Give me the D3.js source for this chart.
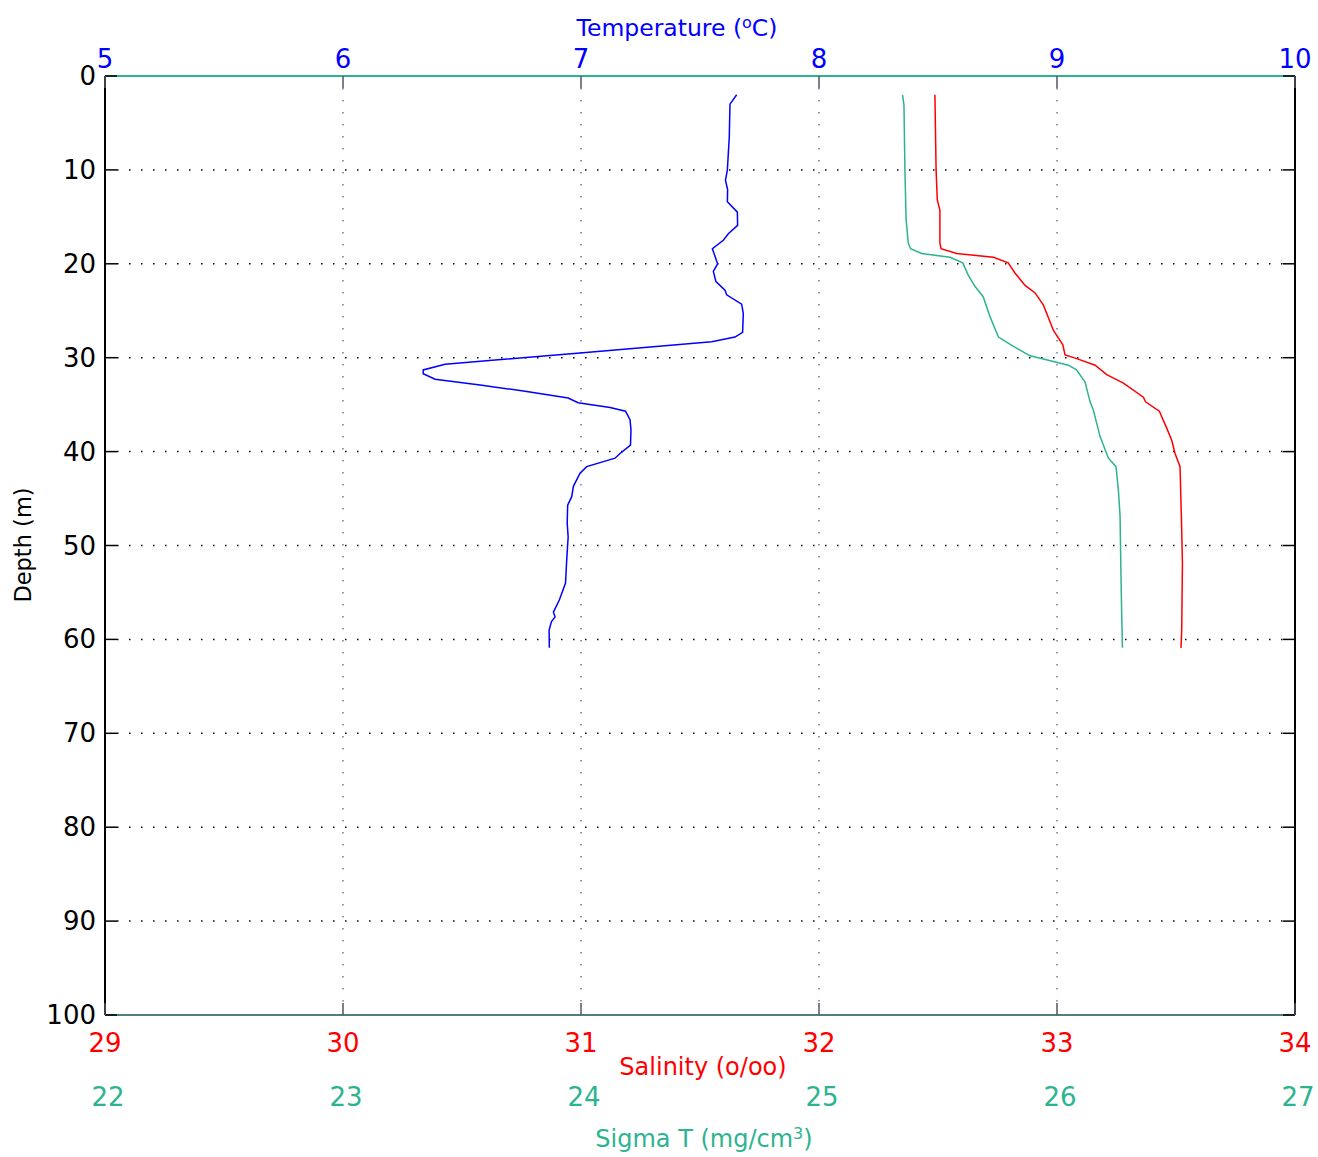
<!DOCTYPE html>
<html><head><meta charset="utf-8">
<script src="https://cdn.jsdelivr.net/npm/d3@7"></script>
<style>body{margin:0;background:#fff}svg{display:block}text{font-family:"DejaVu Sans",sans-serif}</style>
</head><body>
<svg id="c" width="1318" height="1157"></svg>
<script>
const depthTicks = [0,10,20,30,40,50,60,70,80,90,100];
const tempTicks = [5,6,7,8,9,10];
const salTicks = [29,30,31,32,33,34];
const sigTicks = [22,23,24,25,26,27];

const tempDepth = [2.0,3.0,6.5,10,11.1,12.1,13.4,14.5,15.9,16.8,17.5,18.4,20.0,20.8,21.9,22.8,23.3,24.3,25.3,27.3,27.8,28.3,29.5,30.7,31.3,31.7,32.3,32.9,33.6,34.3,34.8,35.3,35.7,36.6,37.7,39.3,40.2,40.7,41.6,42.3,43.7,44.8,45.7,47.6,49.1,51.5,54.0,55.8,57.1,57.6,58.1,59.0,60.9];
const tempValues = [7.654,7.626,7.623,7.615,7.607,7.616,7.615,7.657,7.658,7.619,7.598,7.552,7.574,7.556,7.567,7.605,7.612,7.675,7.682,7.679,7.647,7.549,6.996,6.429,6.337,6.337,6.387,6.576,6.772,6.946,6.988,7.122,7.187,7.206,7.210,7.208,7.164,7.143,7.024,6.996,6.968,6.961,6.944,6.942,6.946,6.940,6.935,6.909,6.884,6.891,6.876,6.866,6.867];

const salDepth = [2.0,10,13.2,14.3,17.8,18.4,18.9,19.3,19.9,21.0,22.3,23.1,24.4,27.1,28.6,29.7,30.1,30.8,31.8,32.7,34.2,34.7,35.7,37.5,38.8,40.2,41.6,48.3,51.9,59.0,60.9];
const salValues = [32.487,32.492,32.497,32.508,32.508,32.513,32.578,32.733,32.795,32.824,32.866,32.908,32.943,32.985,33.024,33.034,33.083,33.160,33.209,33.279,33.363,33.372,33.430,33.461,33.482,33.496,33.517,33.524,33.527,33.524,33.521];

const sigDepth = [2.0,3.1,10,15.3,17.8,18.4,18.9,19.3,19.9,21.2,22.4,23.5,25.6,27.8,28.8,29.8,30.4,30.8,31.3,32.6,34.7,35.6,38.4,40.7,41.6,44.1,46.9,51.9,57.6,60.9];
const sigValues = [25.351,25.357,25.361,25.366,25.375,25.385,25.431,25.550,25.604,25.627,25.655,25.690,25.718,25.754,25.817,25.887,25.985,26.048,26.082,26.118,26.139,26.153,26.181,26.216,26.248,26.258,26.265,26.268,26.272,26.275];

const BLUE="#0000ff", RED="#ff0000", TEAL="#2db38f";
const L=105, R=1295, T=76, B=1015;
const svg = d3.select("#c");
const y = d3.scaleLinear().domain([0,100]).range([T,B]);
const xT = d3.scaleLinear().domain([5,10]).range([L,R]);
const xS = d3.scaleLinear().domain([29,34]).range([L,R]);
const xG = d3.scaleLinear().domain([22,27]).range([L,R]);

// grid
const g = svg.append("g");
g.selectAll("line.h").data(depthTicks.filter(d=>d>0&&d<100)).join("line")
  .attr("x1",L+12).attr("x2",R-12).attr("y1",d=>y(d)).attr("y2",d=>y(d))
  .attr("stroke","#000").attr("stroke-width",1.5).attr("stroke-dasharray","1.5,10.5");
g.selectAll("line.v").data(tempTicks.filter(d=>d>5&&d<10)).join("line")
  .attr("x1",d=>xT(d)).attr("x2",d=>xT(d)).attr("y1",T+12).attr("y2",B-12)
  .attr("stroke","#7a7a9a").attr("stroke-width",1.5).attr("stroke-dasharray","1.5,10.5");

// frame
svg.append("line").attr("x1",L).attr("x2",L).attr("y1",T).attr("y2",B).attr("stroke","#000").attr("stroke-width",2);
svg.append("line").attr("x1",R).attr("x2",R).attr("y1",T).attr("y2",B).attr("stroke","#000").attr("stroke-width",2);
svg.append("line").attr("x1",L).attr("x2",R).attr("y1",T).attr("y2",T).attr("stroke",TEAL).attr("stroke-width",2);
svg.append("line").attr("x1",L).attr("x2",R).attr("y1",B).attr("y2",B).attr("stroke","#4f7f80").attr("stroke-width",2);

// ticks
svg.selectAll("line.lt").data(depthTicks).join("line").attr("x1",L).attr("x2",L+12)
  .attr("y1",d=>y(d)).attr("y2",d=>y(d)).attr("stroke","#000").attr("stroke-width",1.5);
svg.selectAll("line.rt").data(depthTicks).join("line").attr("x1",R-12).attr("x2",R)
  .attr("y1",d=>y(d)).attr("y2",d=>y(d)).attr("stroke","#000").attr("stroke-width",1.5);
svg.selectAll("line.tt").data(tempTicks).join("line").attr("x1",d=>xT(d)).attr("x2",d=>xT(d))
  .attr("y1",T).attr("y2",T+12).attr("stroke","#556").attr("stroke-width",1.5);
svg.selectAll("line.bt").data(salTicks).join("line").attr("x1",d=>xS(d)).attr("x2",d=>xS(d))
  .attr("y1",B-12).attr("y2",B).attr("stroke","#556").attr("stroke-width",1.5);

// tick labels
svg.selectAll("text.yl").data(depthTicks).join("text").attr("x",96).attr("y",d=>y(d)+9)
  .attr("text-anchor","end").attr("font-size",26).attr("fill","#000").text(d=>d);
svg.selectAll("text.tl").data(tempTicks).join("text").attr("x",d=>xT(d)).attr("y",68)
  .attr("text-anchor","middle").attr("font-size",26).attr("fill",BLUE).text(d=>d);
svg.selectAll("text.sl").data(salTicks).join("text").attr("x",d=>xS(d)).attr("y",1052)
  .attr("text-anchor","middle").attr("font-size",26).attr("fill",RED).text(d=>d);
svg.selectAll("text.gl").data(sigTicks).join("text").attr("x",d=>xG(d)+3).attr("y",1106)
  .attr("text-anchor","middle").attr("font-size",26).attr("fill",TEAL).text(d=>d);

// titles
const tt = svg.append("text").attr("x",677).attr("y",36).attr("text-anchor","middle").attr("font-size",23.5).attr("fill",BLUE);
tt.append("tspan").text("Temperature (");
tt.append("tspan").attr("dy",-8).attr("font-size",16).text("o");
tt.append("tspan").attr("dy",8).text("C)");
svg.append("text").attr("x",703).attr("y",1075).attr("text-anchor","middle").attr("font-size",24).attr("fill",RED).text("Salinity (o/oo)");
const st = svg.append("text").attr("x",704).attr("y",1147).attr("text-anchor","middle").attr("font-size",24).attr("fill",TEAL);
st.append("tspan").text("Sigma T (mg/cm");
st.append("tspan").attr("dy",-8).attr("font-size",16).text("3");
st.append("tspan").attr("dy",8).text(")");
svg.append("text").attr("transform","translate(31,545) rotate(-90)").attr("text-anchor","middle")
  .attr("font-size",22.5).attr("fill","#000").text("Depth (m)");

// curves
const mk = (xs, vals, ds) => d3.line().x((d,i)=>xs(vals[i])).y((d,i)=>y(ds[i]))(ds);
svg.append("path").attr("d",mk(xG,sigValues,sigDepth)).attr("fill","none").attr("stroke",TEAL).attr("stroke-width",1.5);
svg.append("path").attr("d",mk(xS,salValues,salDepth)).attr("fill","none").attr("stroke",RED).attr("stroke-width",1.5);
svg.append("path").attr("d",mk(xT,tempValues,tempDepth)).attr("fill","none").attr("stroke",BLUE).attr("stroke-width",1.5);
</script>
</body></html>
